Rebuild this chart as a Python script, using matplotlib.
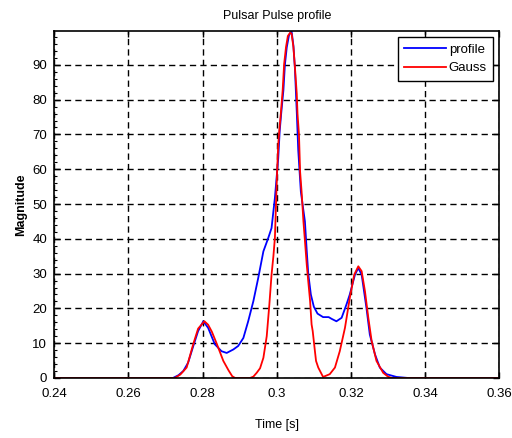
import numpy as np
import matplotlib
matplotlib.use("Agg")
import matplotlib.pyplot as plt
from matplotlib.ticker import MultipleLocator

# measured pulse profile (time in s, magnitude)
profile_t = [0.2400, 0.2550, 0.2553, 0.2556, 0.2583, 0.2586, 0.2589, 0.2720,
             0.2735, 0.2748, 0.2761, 0.2775, 0.2788, 0.2802, 0.2815, 0.2833,
             0.2851, 0.2865, 0.2883, 0.2896, 0.2910, 0.2923, 0.2937, 0.2950,
             0.2964, 0.2977, 0.2986, 0.2991, 0.2995, 0.2998, 0.3004, 0.3008,
             0.3012, 0.3018, 0.3022, 0.3027, 0.3033, 0.3040, 0.3045, 0.3049,
             0.3054, 0.3058, 0.3065, 0.3076, 0.3081, 0.3085, 0.3092, 0.3100,
             0.3110, 0.3125, 0.3140, 0.3148, 0.3161, 0.3175, 0.3188, 0.3197,
             0.3211, 0.3220, 0.3229, 0.3242, 0.3251, 0.3265, 0.3278, 0.3296,
             0.3323, 0.3355, 0.3600]
profile_mag = [0.0, 0.0, -0.4, 0.0, 0.0, -0.4, 0.0, 0.0,
               0.8, 2.0, 4.4, 9.2, 13.5, 16.3, 14.4, 9.7,
               7.7, 7.2, 8.2, 9.2, 11.5, 16.3, 22.1, 28.7,
               36.4, 40.2, 43.1, 47.9, 51.7, 55.5, 63.1, 71.0,
               76.0, 82.7, 90.0, 95.0, 98.5, 99.7, 95.5, 89.0,
               76.5, 65.5, 53.6, 45.0, 36.4, 30.0, 24.0, 20.5,
               18.5, 17.5, 17.5, 17.0, 16.3, 17.3, 21.1, 24.0,
               29.7, 31.6, 29.7, 20.1, 12.5, 6.8, 3.0, 1.1,
               0.3, 0.0, 0.0]

# three-component Gaussian fit
gauss_t = [0.2400, 0.2725, 0.2740, 0.2757, 0.2775, 0.2788, 0.2805, 0.2815,
           0.2825, 0.2838, 0.2856, 0.2870, 0.2880, 0.2888, 0.2928, 0.2937,
           0.2946, 0.2955, 0.2964, 0.2973, 0.2980, 0.2986, 0.2991, 0.2995,
           0.2998, 0.3001, 0.3004, 0.3007, 0.3011, 0.3016, 0.3020, 0.3025,
           0.3030, 0.3036, 0.3040, 0.3045, 0.3049, 0.3054, 0.3056, 0.3060,
           0.3063, 0.3067, 0.3072, 0.3076, 0.3081, 0.3085, 0.3090, 0.3094,
           0.3097, 0.3103, 0.3106, 0.3112, 0.3125, 0.3143, 0.3157, 0.3170,
           0.3184, 0.3197, 0.3209, 0.3220, 0.3229, 0.3238, 0.3247, 0.3256,
           0.3269, 0.3287, 0.3300, 0.3310, 0.3600]
gauss_mag = [0.0, 0.0, 1.0, 3.0, 9.8, 14.2, 16.3, 15.3,
             13.3, 9.9, 4.9, 2.2, 0.5, 0.0, 0.0, 0.4,
             1.5, 2.8, 5.8, 12.0, 21.0, 29.7, 35.0, 40.2,
             49.8, 59.3, 67.0, 71.3, 76.0, 82.7, 90.3, 95.1,
             98.3, 99.2, 99.0, 95.1, 89.4, 81.7, 76.0, 70.0,
             59.3, 53.6, 45.0, 39.5, 32.5, 27.8, 22.1, 15.4,
             13.5, 7.7, 4.9, 3.0, 0.3, 1.1, 3.0, 7.7,
             14.4, 23.0, 29.7, 32.1, 30.7, 24.9, 17.3, 10.6,
             4.9, 1.5, 0.4, 0.0, 0.0]

x_ticks = [0.24, 0.26, 0.28, 0.30, 0.32, 0.34, 0.36]
x_tick_labels = ["0.24", "0.26", "0.28", "0.3", "0.32", "0.34", "0.36"]
y_ticks = [0, 10, 20, 30, 40, 50, 60, 70, 80, 90]

plt.rcParams["font.family"] = ["Liberation Sans", "DejaVu Sans"]

fig = plt.figure(figsize=(5.12, 4.38), dpi=100)
ax = fig.add_axes((0.106, 0.137, 0.869, 0.792))

ax.plot(profile_t, profile_mag, color="#0000ff", lw=1.3, label="profile")
ax.plot(gauss_t, gauss_mag, color="#ff0000", lw=1.3, label="Gauss")

ax.set_xlim(0.24, 0.36)
ax.set_ylim(0, max(max(profile_mag), max(gauss_mag)))
ax.set_xticks(x_ticks)
ax.set_xticklabels(x_tick_labels)
ax.set_yticks(y_ticks)
ax.yaxis.set_minor_locator(MultipleLocator(2))

ax.grid(True, which="major", color="black", linestyle=(0, (4.5, 3)), lw=1.0)
ax.tick_params(which="major", direction="in", length=4, width=1.0,
               top=True, right=True, labelsize=9.5)
ax.tick_params(axis="x", which="major", pad=7)
ax.tick_params(axis="y", which="major", pad=5)
ax.tick_params(which="minor", direction="in", length=2, width=0.8,
               left=True, right=False)
for s in ax.spines.values():
    s.set_linewidth(1.2)
    s.set_color("black")

ax.set_title("Pulsar Pulse profile", fontsize=9, pad=9)
ax.set_xlabel("Time [s]", fontsize=9, labelpad=14)
ax.set_ylabel("Magnitude", fontsize=9, fontweight="bold", labelpad=4)

leg = ax.legend(loc="upper right", fontsize=9.5, fancybox=False,
                framealpha=1, edgecolor="black", handlelength=3.2,
                borderaxespad=0.45, borderpad=0.48, labelspacing=0.5,
                handletextpad=0.2)
leg.get_frame().set_linewidth(1.0)

fig.savefig("out.png", dpi=100)
